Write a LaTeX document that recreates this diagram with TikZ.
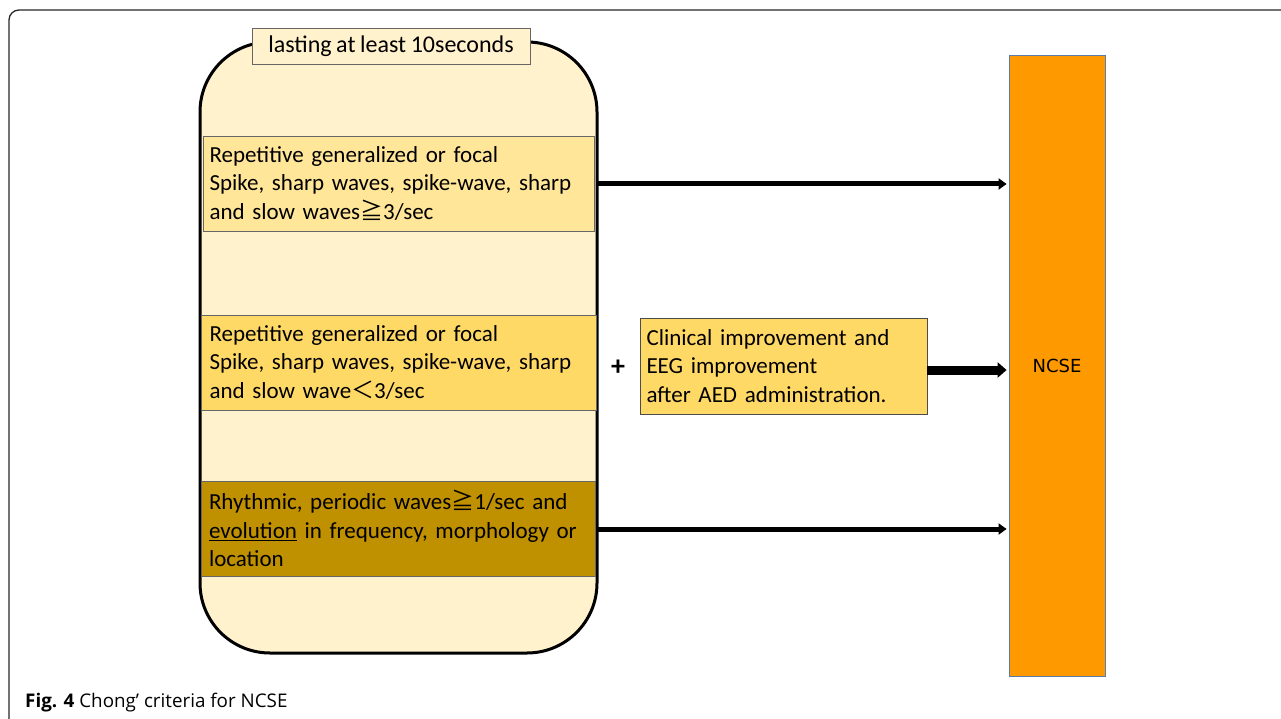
\documentclass[tikz,border=0pt]{standalone}
\usepackage{fontspec}
\setmainfont{Carlito}
\newfontfamily\cjk{Noto Sans CJK JP}
\newfontfamily\ncsefont{DejaVu Sans}
\newfontfamily\capfont{Open Sans}
\usetikzlibrary{arrows.meta}
\definecolor{cream}{HTML}{FFF2CC}
\definecolor{ylight}{HTML}{FFE699}
\definecolor{ymid}{HTML}{FFD966}
\definecolor{ydark}{HTML}{BF9000}
\definecolor{ncseor}{HTML}{FF9900}
\definecolor{ncseedge}{HTML}{5B7BA8}
\newcommand{\boxfont}{\fontsize{23}{28.5}\selectfont\spaceskip=0.19em\relax}
\newcommand{\titlefont}{\fontsize{24}{26}\selectfont\spaceskip=0.19em\relax}
\tikzset{
  crit/.style={draw=black!60, line width=0.8pt, minimum width=391pt, minimum height=95pt,
     text width=378pt, align=left, inner sep=0pt, font=\boxfont},
  bigarrow/.style={line width=5pt, -{Triangle[length=8pt,width=11pt]}, shorten >=2pt},
}
\begin{document}
\begin{tikzpicture}[x=1pt,y=-1pt]
\useasboundingbox (0,0) rectangle (1281,719);
% outer frame
\draw[line width=1.3pt, black!85, rounded corners=10pt] (1300,10) -- (9,10) -- (9,740);
% container
\draw[line width=3pt, fill=cream, rounded corners=70pt] (200,42) rectangle (597,653);
\node[draw=black!60, line width=0.8pt, fill=cream, minimum width=278pt, minimum height=36pt,
      inner sep=0pt, font=\titlefont] (title) at (391,46) {lasting at least 10seconds};
% criteria boxes
\node[crit, fill=ylight, minimum width=391pt] (b1) at (398.5,183.5)
  {Repetitive generalized or focal\\Spike, sharp waves, spike-wave, sharp\\and slow waves{\cjk ≧}3/sec};
\node[crit, fill=ymid, minimum width=395pt] (b2) at (398.5,362.5)
  {Repetitive generalized or focal\\Spike, sharp waves, spike-wave, sharp\\and slow wave{\cjk ＜}3/sec};
\node[crit, fill=ydark, minimum width=394pt] (b3) at (398,528.5)
  {Rhythmic, periodic waves{\cjk ≧}1/sec and\\\underline{evolution} in frequency, morphology or\\location};
\node[font=\fontsize{28}{28}\selectfont\bfseries] (plus) at (618,368) {+};
\node[draw=black!70, line width=0.8pt, fill=ymid, minimum width=287pt, minimum height=96pt,
      text width=274pt, align=left, inner sep=0pt, font=\boxfont] (b4) at (783.5,366)
  {Clinical improvement and\\EEG improvement\\after AED administration.};
\node[draw=ncseedge, line width=0.8pt, fill=ncseor, minimum width=96pt, minimum height=621pt,
      inner sep=0pt, font=\ncsefont\fontsize{18}{20}\selectfont] (ncse) at (1057,365.5) {NCSE};
% arrows
\coordinate (s1) at (597,184);
\coordinate (s3) at (597,529);
\draw[bigarrow] (s1) -- (ncse.west |- s1);
\draw[line width=9pt, -{Triangle[length=9pt,width=15pt]}, shorten >=2pt] (b4.east |- 0,370) -- (ncse.west |- 0,370);
\draw[bigarrow] (s3) -- (ncse.west |- s3);
% caption
\node[anchor=west, inner sep=0pt, font=\capfont\fontsize{18.8}{22}\selectfont] (cap) at (25,703)
  {\textbf{Fig. 4} Chong’ criteria for NCSE};
\end{tikzpicture}
\end{document}
